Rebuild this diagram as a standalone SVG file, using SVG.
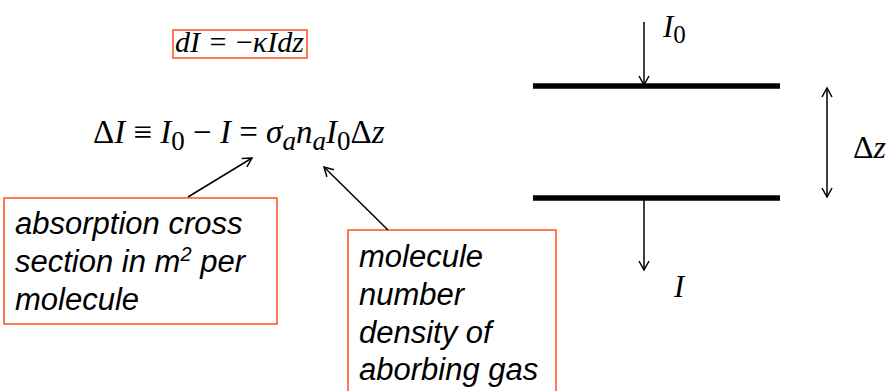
<svg xmlns="http://www.w3.org/2000/svg" width="889" height="391" viewBox="0 0 889 391">
<defs>
<marker id="ah" markerWidth="12" markerHeight="12" refX="10" refY="6" orient="auto-start-reverse" markerUnits="userSpaceOnUse">
<path d="M1,1 L10,6 L1,11" fill="none" stroke="#000" stroke-width="1.5"/>
</marker>
<style>
.math{font-family:"Liberation Serif","Times New Roman",serif;fill:#000}
.it{font-style:italic}
.note{font-family:"Liberation Sans",Arial,sans-serif;font-style:italic;font-size:31px;fill:#000}
.box{fill:#fff;stroke:#ff3300;stroke-width:1.3}
.ln{stroke:#000;stroke-width:1.5;fill:none}
.bar{stroke:#000;stroke-width:5.5}
</style>
</defs>
<rect width="889" height="391" fill="#fff"/>

<g id="eq-diff">
<rect class="box" x="173" y="30" width="134" height="28"/>
<text class="math" x="175" y="52" font-size="30" word-spacing="2"><tspan class="it">dI</tspan> = −<tspan class="it">κIdz</tspan></text>
</g>

<g id="eq-main">
<text class="math" x="93" y="143" font-size="33">Δ<tspan class="it">I</tspan> ≡ <tspan class="it">I</tspan><tspan font-size="27" dy="7">0</tspan><tspan dy="-7"> − </tspan><tspan class="it">I</tspan> = <tspan class="it">σ</tspan><tspan class="it" font-size="27" dy="7">a</tspan><tspan class="it" dy="-7">n</tspan><tspan class="it" font-size="27" dy="7">a</tspan><tspan class="it" dy="-7">I</tspan><tspan font-size="27" dy="7">0</tspan><tspan dy="-7">Δ</tspan><tspan class="it">z</tspan></text>
</g>

<g id="note-cross">
<rect class="box" x="4" y="198" width="273" height="126"/>
<text class="note" x="15" y="234">absorption cross</text>
<text class="note" x="15" y="272">section in m<tspan font-size="20" dy="-11">2</tspan><tspan dy="11"> per</tspan></text>
<text class="note" x="15" y="310">molecule</text>
</g>

<g id="note-density">
<rect class="box" x="348" y="230" width="208" height="175"/>
<text class="note" x="359" y="267">molecule</text>
<text class="note" x="359" y="305">number</text>
<text class="note" x="359" y="343">density of</text>
<text class="note" x="359" y="380">aborbing gas</text>
</g>

<g id="slab">
<line class="bar" x1="533" y1="86" x2="780" y2="86"/>
<line class="bar" x1="533" y1="198" x2="780" y2="198"/>
</g>

<g id="labels">
<text class="math" x="663" y="37" font-size="31"><tspan class="it">I</tspan><tspan font-size="25" dy="6">0</tspan></text>
<text class="math" x="853" y="158" font-size="32">Δ<tspan class="it">z</tspan></text>
<text class="math" x="674" y="297" font-size="31" font-style="italic">I</text>
</g>

<g id="connectors">
<line class="ln" x1="644" y1="22" x2="644" y2="85" marker-end="url(#ah)"/>
<line class="ln" x1="644" y1="199" x2="644" y2="270" marker-end="url(#ah)"/>
<line class="ln" x1="827" y1="88" x2="827" y2="197" marker-start="url(#ah)" marker-end="url(#ah)"/>
<line class="ln" x1="188" y1="197" x2="252" y2="158" marker-end="url(#ah)"/>
<line class="ln" x1="388" y1="230" x2="324" y2="167" marker-end="url(#ah)"/>
</g>
</svg>
